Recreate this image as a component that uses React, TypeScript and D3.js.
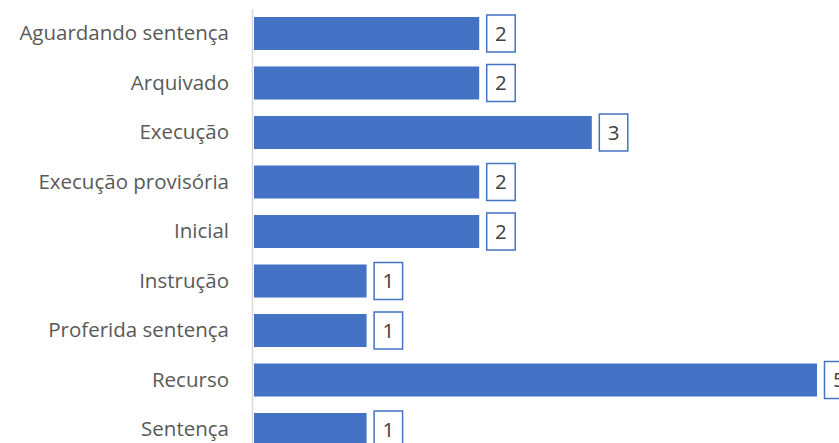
import React, { useEffect, useRef } from "react";
import * as d3 from "d3";

const categories = [
  "Aguardando sentença",
  "Arquivado",
  "Execução",
  "Execução provisória",
  "Inicial",
  "Instrução",
  "Proferida sentença",
  "Recurso",
  "Sentença",
];
const values = [2, 2, 3, 2, 2, 1, 1, 5, 1];

const App = () => {
  const chartRef = useRef<SVGSVGElement>(null);

  useEffect(() => {
    const svg = d3.select(chartRef.current);
    svg.selectAll("*").remove();

    const font = "'Segoe UI', 'Open Sans', 'Noto Sans', sans-serif";

    const x = d3.scaleLinear().domain([0, 5]).range([254, 817]);
    const y = d3
      .scaleBand()
      .domain(categories)
      .range([0.5, 462.5])
      .paddingInner(0.333)
      .paddingOuter(0.333);

    const data = categories.map((c, i) => ({ cat: c, val: values[i] }));

    // category labels
    svg
      .append("g")
      .selectAll("text")
      .data(data)
      .enter()
      .append("text")
      .attr("x", 229)
      .attr("y", (d) => y(d.cat)! + y.bandwidth() / 2)
      .attr("dy", "0.33em")
      .attr("text-anchor", "end")
      .attr("font-family", font)
      .attr("font-size", 20.5)
      .attr("fill", "#595959")
      .text((d) => d.cat);

    svg
      .append("g")
      .selectAll("rect")
      .data(data)
      .enter()
      .append("rect")
      .attr("x", x(0))
      .attr("y", (d) => y(d.cat)!)
      .attr("width", (d) => x(d.val) - x(0))
      .attr("height", y.bandwidth())
      .attr("fill", "#4472C4");

    // axis line
    svg
      .append("line")
      .attr("x1", 252.5)
      .attr("x2", 252.5)
      .attr("y1", 9)
      .attr("y2", 443)
      .attr("stroke", "#d9d9d9")
      .attr("stroke-width", 1.5);

    // value labels in boxes
    const lab = svg
      .append("g")
      .selectAll("g")
      .data(data)
      .enter()
      .append("g")
      .attr(
        "transform",
        (d) => `translate(${x(d.val) + 7.5},${y(d.cat)! + y.bandwidth() / 2})`
      );
    lab
      .append("rect")
      .attr("x", 0)
      .attr("y", -18.5)
      .attr("width", 28.5)
      .attr("height", 37)
      .attr("fill", "#ffffff")
      .attr("stroke", "#4472C4")
      .attr("stroke-width", 1.5);
    lab
      .append("text")
      .attr("x", 14.25)
      .attr("y", 0)
      .attr("dy", "0.35em")
      .attr("text-anchor", "middle")
      .attr("font-family", font)
      .attr("font-size", 20.5)
      .attr("fill", "#404040")
      .text((d) => d.val);
  }, []);

  return (
    <svg
      ref={chartRef}
      width={839}
      height={443}
      style={{ position: "absolute", left: 0, top: 0, background: "#fff" }}
    ></svg>
  );
};

export default App;
